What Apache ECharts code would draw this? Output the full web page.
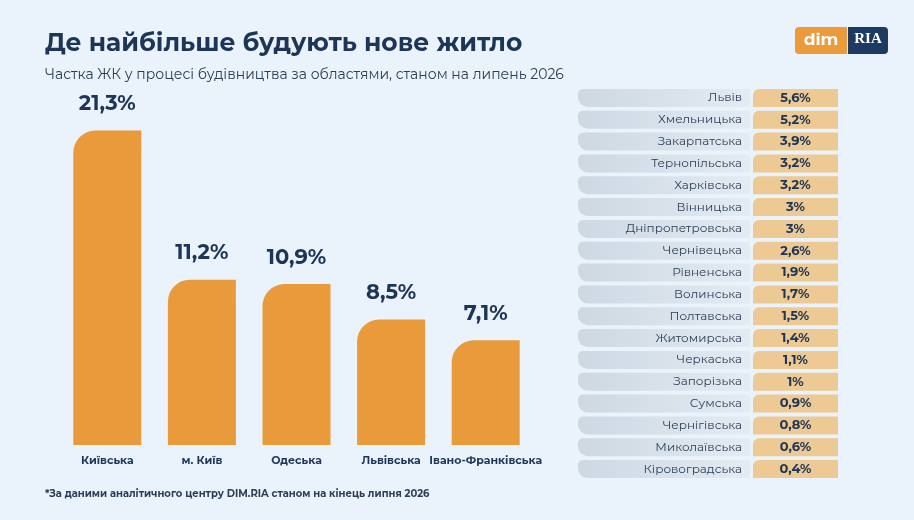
<!DOCTYPE html>
<html><head><meta charset="utf-8">
<script src="https://cdn.jsdelivr.net/npm/echarts@6/dist/echarts.min.js"></script>
<style>html,body{margin:0;padding:0;background:#eaf2fb}#c{width:914px;height:520px}</style>
</head><body><div id="c"></div>
<script>
// top 5
var topNames=["Київська","м. Київ","Одеська","Львівська","Івано-Франківська"]
var topValues=[21.3,11.2,10.9,8.5,7.1]
// the rest
var restNames=["Львів","Хмельницька","Закарпатська","Тернопільська","Харківська","Вінницька","Дніпропетровська","Чернівецька","Рівненська","Волинська","Полтавська","Житомирська","Черкаська","Запорізька","Сумська","Чернігівська","Миколаївська","Кіровоградська"]
var restValues=[5.6,5.2,3.9,3.2,3.2,3,3,2.6,1.9,1.7,1.5,1.4,1.1,1,0.9,0.8,0.6,0.4]

function fmt(v){return String(v).replace(".",",")+"%"}
var navy="#1d3557"
var font="Montserrat, Inter, 'Noto Sans', sans-serif"

var chart=echarts.init(document.getElementById("c"))
var option={
    backgroundColor:"#eaf2fb",
    textStyle:{fontFamily:font},
    title:[
        {text:"Де найбільше будують нове житло",left:40,top:26,textStyle:{fontSize:25,fontWeight:"bold",color:navy,fontFamily:font}},
        {text:"Частка ЖК у процесі будівництва за областями, станом на липень 2026",left:40,top:63,textStyle:{fontSize:14,fontWeight:"normal",color:"#2b3e55",fontFamily:font}},
        {text:"*За даними аналітичного центру DIM.RIA станом на кінець липня 2026",left:40,top:484,textStyle:{fontSize:10,fontWeight:"bold",color:"#2b3e55",fontFamily:font}}
    ],
    graphic:[
        {type:"rect",shape:{x:795,y:27,width:52,height:27,r:[4,0,0,4]},style:{fill:"#ec9a3a"}},
        {type:"text",x:821,y:40,style:{text:"dim",fill:"#fff",font:"bold 17px "+font,align:"center",verticalAlign:"middle"}},
        {type:"rect",shape:{x:848,y:27,width:40,height:27,r:[0,4,4,0]},style:{fill:"#1d3a63"}},
        {type:"text",x:868,y:39,style:{text:"RIA",fill:"#fff",font:"bold 15px serif",align:"center",verticalAlign:"middle"}}
    ],
    grid:[
        {left:60,width:473,top:76,bottom:75},
        {left:578,width:260,top:87,bottom:40}
    ],
    xAxis:[
        {gridIndex:0,type:"category",data:topNames,axisLine:{show:false},axisTick:{show:false},
         axisLabel:{margin:10,fontSize:11,fontWeight:"bold",color:navy,interval:0}},
        {gridIndex:1,type:"value",min:0,max:260,show:false}
    ],
    yAxis:[
        {gridIndex:0,type:"value",min:0,max:25,show:false},
        {gridIndex:1,type:"category",data:restNames,inverse:true,show:false}
    ],
    series:[
        {type:"bar",xAxisIndex:0,yAxisIndex:0,data:topValues,barWidth:68,
         itemStyle:{color:"#e99b3b",borderRadius:[22,0,0,0]},
         label:{show:true,position:"top",distance:16,formatter:function(p){return fmt(p.value)},fontSize:21,fontWeight:"bold",color:navy}},
        {type:"bar",xAxisIndex:1,yAxisIndex:1,stack:"r",barWidth:18,
         data:restNames.map(function(){return 172}),
         itemStyle:{color:new echarts.graphic.LinearGradient(0,0,1,0,[{offset:0,color:"#cdd8e3"},{offset:1,color:"#e3ebf3"}]),borderRadius:[5,0,0,10]},
         label:{show:true,position:"insideRight",distance:8,formatter:function(p){return restNames[p.dataIndex]},fontSize:12,color:"#2b3e55"}},
        {type:"bar",xAxisIndex:1,yAxisIndex:1,stack:"r",barWidth:18,silent:true,
         data:restNames.map(function(){return 3}),itemStyle:{color:"rgba(0,0,0,0)"}},
        {type:"bar",xAxisIndex:1,yAxisIndex:1,stack:"r",barWidth:18,
         data:restValues.map(function(){return 85}),
         itemStyle:{color:"#edc994",borderRadius:[6,0,0,0]},
         label:{show:true,position:"inside",formatter:function(p){return fmt(restValues[p.dataIndex])},fontSize:13,fontWeight:"bold",color:navy}}
    ]
}
chart.setOption(option)
</script></body></html>
